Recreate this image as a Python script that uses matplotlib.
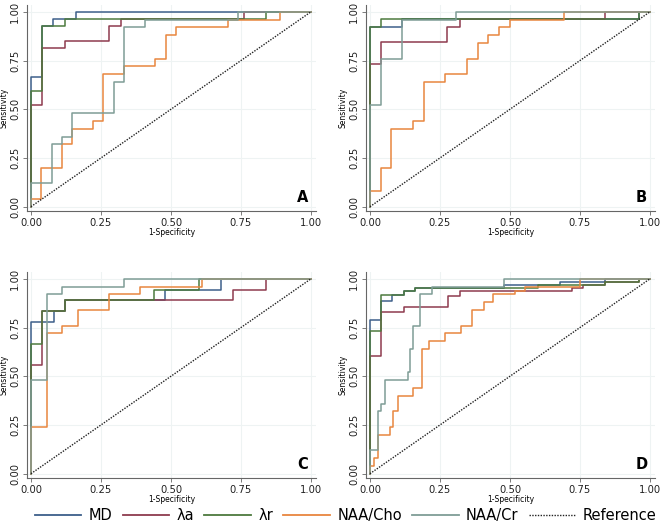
import numpy as np
import matplotlib
matplotlib.use("Agg")
import matplotlib.pyplot as plt
from matplotlib.lines import Line2D

# ROC curves: fpr = right end of each horizontal run, tpr = its level
series_names = ["MD", "λa", "λr", "NAA/Cho", "NAA/Cr"]
colors = ["#3d5f8a", "#8e3b4e", "#4d7a3e", "#e8863f", "#7f9d96"]
panel_labels = ["A", "B", "C", "D"]
ticks = [0.0, 0.25, 0.5, 0.75, 1.0]
tick_labels = ["0.00", "0.25", "0.50", "0.75", "1.00"]

# panel A
a_md_fpr = [0, 0.04, 0.08, 0.16, 1]
a_md_tpr = [0, 0.667, 0.926, 0.963, 1]
a_la_fpr = [0, 0.04, 0.12, 0.28, 0.32, 0.76, 1]
a_la_tpr = [0, 0.52, 0.815, 0.852, 0.926, 0.963, 1]
a_lr_fpr = [0, 0.04, 0.12, 0.84, 1]
a_lr_tpr = [0, 0.593, 0.926, 0.963, 1]
a_cho_fpr = [0, 0.037, 0.111, 0.148, 0.222, 0.259, 0.333, 0.444, 0.481, 0.519, 0.704, 0.889, 1]
a_cho_tpr = [0, 0.04, 0.2, 0.32, 0.40, 0.44, 0.68, 0.72, 0.76, 0.88, 0.92, 0.96, 1]
a_cr_fpr = [0, 0.074, 0.111, 0.148, 0.296, 0.333, 0.407, 0.741, 1]
a_cr_tpr = [0, 0.12, 0.32, 0.36, 0.48, 0.64, 0.92, 0.96, 1]

# panel B
b_md_fpr = [0, 0.115, 0.96, 1]
b_md_tpr = [0, 0.923, 0.962, 1]
b_la_fpr = [0, 0.038, 0.277, 0.32, 0.84, 1]
b_la_tpr = [0, 0.731, 0.846, 0.923, 0.962, 1]
b_lr_fpr = [0, 0.038, 0.96, 1]
b_lr_tpr = [0, 0.923, 0.962, 1]
b_cho_fpr = [0, 0.038, 0.077, 0.154, 0.192, 0.269, 0.346, 0.385, 0.423, 0.462, 0.5, 0.692, 1]
b_cho_tpr = [0, 0.08, 0.2, 0.40, 0.44, 0.64, 0.68, 0.76, 0.84, 0.88, 0.92, 0.96, 1]
b_cr_fpr = [0, 0.038, 0.115, 0.308, 1]
b_cr_tpr = [0, 0.52, 0.76, 0.96, 1]

# panel C
c_md_fpr = [0, 0.083, 0.12, 0.48, 0.68, 1]
c_md_tpr = [0, 0.778, 0.833, 0.889, 0.944, 1]
c_la_fpr = [0, 0.04, 0.12, 0.72, 0.84, 1]
c_la_tpr = [0, 0.556, 0.833, 0.889, 0.944, 1]
c_lr_fpr = [0, 0.04, 0.12, 0.44, 0.60, 1]
c_lr_tpr = [0, 0.667, 0.833, 0.889, 0.944, 1]
c_cho_fpr = [0, 0.056, 0.111, 0.167, 0.278, 0.389, 0.611, 1]
c_cho_tpr = [0, 0.24, 0.72, 0.76, 0.84, 0.92, 0.96, 1]
c_cr_fpr = [0, 0.056, 0.111, 0.333, 1]
c_cr_tpr = [0, 0.48, 0.92, 0.96, 1]

# panel D
d_md_fpr = [0, 0.038, 0.08, 0.12, 0.16, 0.48, 0.68, 0.84, 1]
d_md_tpr = [0, 0.788, 0.885, 0.915, 0.94, 0.955, 0.97, 0.985, 1]
d_la_fpr = [0, 0.038, 0.12, 0.28, 0.32, 0.72, 0.76, 0.84, 0.96, 1]
d_la_tpr = [0, 0.604, 0.83, 0.856, 0.914, 0.94, 0.955, 0.97, 0.985, 1]
d_lr_fpr = [0, 0.038, 0.12, 0.16, 0.60, 0.84, 0.96, 1]
d_lr_tpr = [0, 0.733, 0.915, 0.94, 0.955, 0.97, 0.985, 1]
d_cho_fpr = [0, 0.015, 0.03, 0.071, 0.083, 0.101, 0.155, 0.185, 0.212, 0.268, 0.324,
             0.365, 0.408, 0.438, 0.518, 0.554, 0.75, 1]
d_cho_tpr = [0, 0.04, 0.08, 0.2, 0.24, 0.32, 0.40, 0.44, 0.64, 0.68, 0.72,
             0.76, 0.84, 0.88, 0.92, 0.94, 0.96, 1]
d_cr_fpr = [0, 0.03, 0.04, 0.055, 0.135, 0.143, 0.155, 0.18, 0.22, 0.48, 1]
d_cr_tpr = [0, 0.12, 0.32, 0.36, 0.48, 0.52, 0.64, 0.76, 0.92, 0.96, 1]

panels = [
    [(a_md_fpr, a_md_tpr), (a_la_fpr, a_la_tpr), (a_lr_fpr, a_lr_tpr), (a_cho_fpr, a_cho_tpr), (a_cr_fpr, a_cr_tpr)],
    [(b_md_fpr, b_md_tpr), (b_la_fpr, b_la_tpr), (b_lr_fpr, b_lr_tpr), (b_cho_fpr, b_cho_tpr), (b_cr_fpr, b_cr_tpr)],
    [(c_md_fpr, c_md_tpr), (c_la_fpr, c_la_tpr), (c_lr_fpr, c_lr_tpr), (c_cho_fpr, c_cho_tpr), (c_cr_fpr, c_cr_tpr)],
    [(d_md_fpr, d_md_tpr), (d_la_fpr, d_la_tpr), (d_lr_fpr, d_lr_tpr), (d_cho_fpr, d_cho_tpr), (d_cr_fpr, d_cr_tpr)],
]

W, H = 662, 528
fig = plt.figure(figsize=(W / 100, H / 100), dpi=100)

# axes boxes in pixels: left, top, right, bottom
boxes = [(27, 5, 316, 211), (366, 5, 655, 211), (27, 272, 316, 478), (366, 272, 655, 478)]
ref_style = (0, (1.0, 1.0))

for i, (l, t, r, b) in enumerate(boxes):
    ax = fig.add_axes([l / W, 1 - b / H, (r - l) / W, (b - t) / H])
    for j, (fx, ty) in enumerate(panels[i]):
        ax.plot(fx, ty, drawstyle="steps-pre", color=colors[j], lw=1.1)
    ax.plot([0, 1], [0, 1], color="#222222", lw=1.0, linestyle=ref_style)
    ax.set_xlim(-0.014, 1.018)
    ax.set_ylim(-0.022, 1.035)
    ax.set_xticks(ticks)
    ax.set_xticklabels(tick_labels, fontsize=7.2)
    ax.set_yticks(ticks)
    ax.set_yticklabels(tick_labels, fontsize=7.2, rotation=90, va="center")
    ax.grid(True, color="#eef3f3", lw=0.8)
    ax.set_axisbelow(True)
    for s in ["top", "right"]:
        ax.spines[s].set_visible(False)
    for s in ["left", "bottom"]:
        ax.spines[s].set_color("#666666")
        ax.spines[s].set_linewidth(0.8)
    ax.tick_params(length=3, width=0.6, color="#666666", pad=2, labelcolor="#222222")
    ax.set_xlabel("1-Specificity", fontsize=5.5, labelpad=0)
    ax.set_ylabel("Sensitivity", fontsize=5.5, labelpad=1)
    ax.text(0.97, 0.045, panel_labels[i], fontsize=10.5, fontweight="bold",
            ha="center", va="center")

handles = [Line2D([], [], color=c, lw=1.3) for c in colors]
handles.append(Line2D([], [], color="#222222", lw=1.0, linestyle=ref_style))
fig.legend(handles, series_names + ["Reference"], loc="center", bbox_to_anchor=(0.522, 0.023),
           ncol=6, frameon=False, fontsize=10.5, handlelength=3.2, handletextpad=0.5,
           columnspacing=0.7)

fig.savefig("out.png", dpi=100)
